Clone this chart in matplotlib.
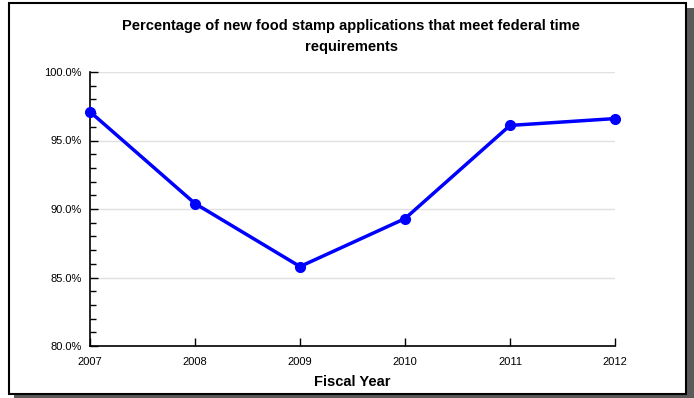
import matplotlib.pyplot as plt
from matplotlib.patches import Rectangle
from matplotlib.ticker import MultipleLocator, FuncFormatter

years = [2007, 2008, 2009, 2010, 2011, 2012]
pct_on_time = [97.1, 90.4, 85.8, 89.3, 96.1, 96.6]

plt.rcParams['font.family'] = ['Liberation Sans Narrow', 'Liberation Sans', 'DejaVu Sans']

fig = plt.figure(figsize=(6.94, 3.98), dpi=100)
W, H = 694, 398

# frame with drop shadow
fig.patches.append(Rectangle((14 / W, 0), (W - 14) / W, (H - 8) / H,
                             transform=fig.transFigure, facecolor='#5a5a5a',
                             edgecolor='none', zorder=0))
fig.patches.append(Rectangle((9 / W, 4 / H), 677 / W, 391 / H,
                             transform=fig.transFigure, facecolor='white',
                             edgecolor='black', linewidth=1.5, zorder=1))

ax = fig.add_axes([90 / W, (H - 346) / H, 525 / W, 274 / H])
ax.set_zorder(2)
ax.set_facecolor('none')
ax.plot(years, pct_on_time, color='#0000ff', linewidth=2.5,
        marker='o', markersize=7, zorder=3, clip_on=False)

ax.set_xlim(2007, 2012)
ax.set_ylim(80, 100)
ax.set_xticks(years)
ax.yaxis.set_major_locator(MultipleLocator(5))
ax.yaxis.set_minor_locator(MultipleLocator(1))
ax.yaxis.set_major_formatter(FuncFormatter(lambda v, p: f'{v:.1f}%'))
ax.tick_params(axis='both', direction='in', labelsize=8, length=6, width=1)
ax.tick_params(axis='y', which='minor', direction='in', length=4, width=1)
ax.tick_params(axis='y', which='major', pad=6)
ax.tick_params(axis='x', which='major', pad=8)
ax.grid(axis='y', color='#e0e0e0', linewidth=1)
ax.set_axisbelow(True)
for s in ['top', 'right']:
    ax.spines[s].set_visible(False)
for s in ['left', 'bottom']:
    ax.spines[s].set_linewidth(1.2)

ax.set_xlabel('Fiscal Year', fontsize=10.5, fontweight='bold', labelpad=6)
fig.text(351 / W, 1 - 36.5 / H,
         'Percentage of new food stamp applications that meet federal time\nrequirements',
         ha='center', va='center', fontsize=10.5, fontweight='bold', linespacing=1.6,
         zorder=3)

fig.savefig('out.png', dpi=100)
